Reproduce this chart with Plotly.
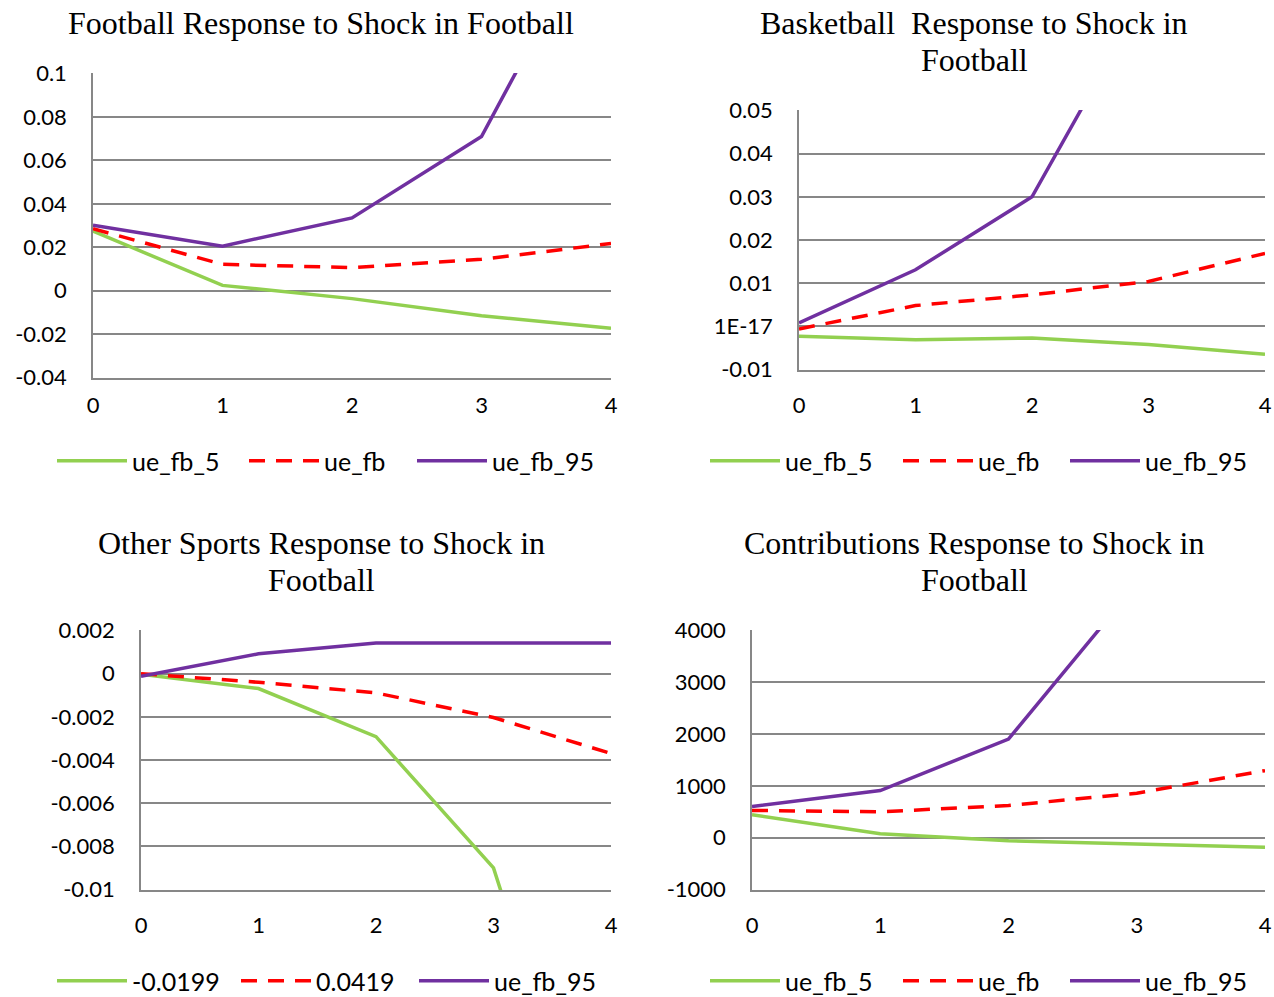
import plotly.graph_objects as go

periods = [0, 1, 2, 3, 4]

# Panel 1: Football response to shock in football
fb_p5 = [0.0274, 0.0024, -0.0037, -0.0116, -0.0174]
fb_mid = [0.0285, 0.0121, 0.0106, 0.0144, 0.0217]
fb_p95 = [0.0301, 0.0205, 0.0335, 0.0710, 0.182]

# Panel 2: Basketball response to shock in football
bb_p5 = [-0.0023, -0.0031, -0.0027, -0.0042, -0.0065]
bb_mid = [-0.0006, 0.0048, 0.0073, 0.0104, 0.0169]
bb_p95 = [0.0008, 0.0131, 0.0300, 0.078, 0.16]

# Panel 3: Other sports response to shock in football
os_p5 = [-0.00003, -0.00069, -0.00292, -0.0090, -0.026]
os_mid = [0.0, -0.0004, -0.00089, -0.00203, -0.0037]
os_p95 = [-0.00012, 0.00092, 0.00142, 0.00142, 0.00142]

# Panel 4: Contributions response to shock in football
ct_p5 = [442, 77, -58, -122, -186]
ct_mid = [526, 500, 622, 859, 1295]
ct_p95 = [603, 910, 1904, 4900, 9000]

title_lines = [
    ["Football Response to Shock in Football"],
    ["Basketball  Response to Shock in", "Football"],
    ["Other Sports Response to Shock in", "Football"],
    ["Contributions Response to Shock in", "Football"],
]
names_std = ["ue_fb_5", "ue_fb", "ue_fb_95"]
names_p3 = ["-0.0199", "0.0419", "ue_fb_95"]

yranges = [[-0.04, 0.1], [-0.01, 0.05], [-0.01, 0.002], [-1000, 4000]]
ytickvals = [
    [-0.04, -0.02, 0, 0.02, 0.04, 0.06, 0.08, 0.1],
    [-0.01, 0, 0.01, 0.02, 0.03, 0.04, 0.05],
    [-0.01, -0.008, -0.006, -0.004, -0.002, 0, 0.002],
    [-1000, 0, 1000, 2000, 3000, 4000],
]
yticktext = [
    ["-0.04", "-0.02", "0", "0.02", "0.04", "0.06", "0.08", "0.1"],
    ["-0.01", "1E-17", "0.01", "0.02", "0.03", "0.04", "0.05"],
    ["-0.01", "-0.008", "-0.006", "-0.004", "-0.002", "0", "0.002"],
    ["-1000", "0", "1000", "2000", "3000", "4000"],
]

W, H = 1274, 997
# plot areas in pixels: (left, right, top, bottom)
boxes = [(93, 611, 73, 378), (799, 1265, 110, 370), (141, 611, 630, 890), (752, 1265, 630, 890)]
xlabel_standoff = [7, 15, 15, 15]
title_x = [321, 974, 321, 974]
title_y = [[23], [23, 60], [543, 580], [543, 580]]
legend_y = [461, 461, 981, 981]
legend_x = [[57, 249, 417], [710, 903, 1070], [57, 241, 419], [710, 903, 1070]]

data = [
    (fb_p5, fb_mid, fb_p95, names_std),
    (bb_p5, bb_mid, bb_p95, names_std),
    (os_p5, os_mid, os_p95, names_p3),
    (ct_p5, ct_mid, ct_p95, names_std),
]

GREEN, RED, PURPLE = "#92D050", "#FF0000", "#7030A0"
GRID = "#878787"
TICKFONT = dict(family="Lato, 'Open Sans', sans-serif", size=22, color="#000000")
LEGFONT = dict(family="Lato, 'Open Sans', sans-serif", size=25, color="#000000")
TITLEFONT = dict(family="'Liberation Serif', 'Times New Roman', serif", size=32, color="#000000")

fig = go.Figure()
layout = dict(
    width=W, height=H, margin=dict(l=0, r=0, t=0, b=0, autoexpand=False),
    paper_bgcolor="white", plot_bgcolor="white", annotations=[],
)

legend_count = 0
for i, (p5, mid, p95, names) in enumerate(data):
    k = i + 1
    xa = "x" if k == 1 else f"x{k}"
    ya = "y" if k == 1 else f"y{k}"
    styles = [
        (p5, names[0], dict(color=GREEN, width=3.5)),
        (mid, names[1], dict(color=RED, width=3.5, dash="16px,11px")),
        (p95, names[2], dict(color=PURPLE, width=3.5)),
    ]
    for j, (vals, nm, ln) in enumerate(styles):
        legend_count += 1
        leg = "legend" if legend_count == 1 else f"legend{legend_count}"
        fig.add_trace(go.Scatter(x=periods, y=vals, name=nm, mode="lines", line=ln,
                                 xaxis=xa, yaxis=ya, legend=leg, showlegend=True))
        layout[leg] = dict(
            x=(legend_x[i][j] - 5) / W, y=1 - legend_y[i] / H,
            xanchor="left", yanchor="middle", orientation="h",
            font=LEGFONT, bgcolor="rgba(0,0,0,0)", itemwidth=70,
        )
    l, r, t, b = boxes[i]
    lo, hi = yranges[i]
    eps = (hi - lo) * 0.002
    xkey = "xaxis" if k == 1 else f"xaxis{k}"
    ykey = "yaxis" if k == 1 else f"yaxis{k}"
    layout[xkey] = dict(
        domain=[l / W, r / W], range=[0, 4], anchor=ya, tickvals=periods,
        showgrid=False, zeroline=False, showline=True, linecolor=GRID, linewidth=1.5,
        ticks="", tickfont=TICKFONT, ticklabelstandoff=xlabel_standoff[i],
        automargin=False, fixedrange=True,
    )
    layout[ykey] = dict(
        domain=[1 - b / H, 1 - t / H], range=[lo - eps, hi + eps], anchor=xa,
        tickvals=ytickvals[i], ticktext=yticktext[i],
        showgrid=True, gridcolor=GRID, gridwidth=1.5,
        zeroline=True, zerolinecolor=GRID, zerolinewidth=1.5,
        showline=True, linecolor=GRID, linewidth=1.5, ticks="",
        tickfont=TICKFONT, ticklabelstandoff=20,
        automargin=False, fixedrange=True,
    )
    for line_text, ty in zip(title_lines[i], title_y[i]):
        layout["annotations"].append(dict(
            text=line_text, x=title_x[i] / W, y=1 - ty / H, xref="paper", yref="paper",
            xanchor="center", yanchor="middle", showarrow=False, font=TITLEFONT,
        ))

fig.update_layout(**layout)
fig.write_html("out.html")
